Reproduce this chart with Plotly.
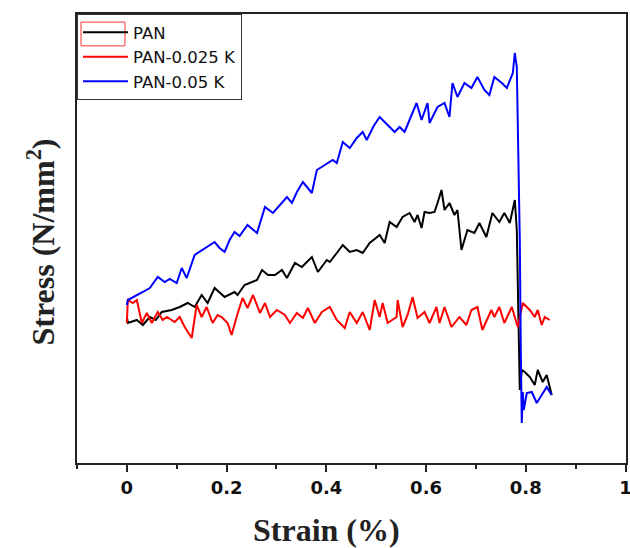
import plotly.graph_objects as go

# Strain (%) and stress (arbitrary units)
pan_x = [0.000, 0.002, 0.020, 0.032, 0.046, 0.058, 0.070, 0.090, 0.106, 0.122, 0.136, 0.150, 0.162,
         0.176, 0.196, 0.216, 0.222, 0.236, 0.261, 0.271, 0.283, 0.297, 0.311, 0.321, 0.337, 0.351,
         0.371, 0.383, 0.401, 0.407, 0.421, 0.433, 0.447, 0.461, 0.473, 0.487, 0.507, 0.517, 0.527,
         0.541, 0.553, 0.567, 0.577, 0.583, 0.591, 0.597, 0.607, 0.617, 0.623, 0.631, 0.637, 0.647,
         0.657, 0.663, 0.671, 0.683, 0.697, 0.707, 0.721, 0.733, 0.747, 0.757, 0.768, 0.778, 0.782,
         0.784, 0.786, 0.788, 0.792, 0.798, 0.808, 0.818, 0.824, 0.834, 0.842, 0.852]
pan_y = [14.6, 14.0, 14.3, 13.8, 14.6, 14.3, 15.1, 15.3, 15.6, 16.0, 15.6, 16.8, 16.0,
         17.5, 16.6, 17.1, 16.8, 17.8, 18.3, 19.3, 18.8, 18.8, 19.3, 18.5, 20.0, 19.6,
         20.6, 19.1, 20.3, 20.1, 21.0, 21.8, 21.1, 21.3, 21.0, 22.0, 22.8, 22.0, 24.1,
         23.6, 24.6, 25.0, 24.1, 24.8, 23.5, 25.1, 25.0, 25.1, 26.0, 27.3, 25.3, 26.0,
         24.8, 25.3, 21.3, 23.3, 23.0, 24.0, 22.6, 25.0, 24.1, 25.0, 24.0, 26.3, 23.3,
         17.6, 13.3, 7.3, 9.3, 9.1, 8.6, 7.8, 9.3, 8.1, 8.8, 6.8]

k025_x = [0.000, 0.002, 0.012, 0.020, 0.030, 0.040, 0.050, 0.062, 0.072, 0.080, 0.096, 0.106, 0.116,
          0.130, 0.140, 0.150, 0.160, 0.172, 0.182, 0.190, 0.202, 0.210, 0.220, 0.232, 0.242, 0.253,
          0.267, 0.277, 0.287, 0.301, 0.317, 0.327, 0.341, 0.353, 0.363, 0.377, 0.391, 0.407, 0.421,
          0.437, 0.447, 0.461, 0.473, 0.487, 0.497, 0.507, 0.513, 0.523, 0.541, 0.543, 0.553, 0.563,
          0.573, 0.583, 0.597, 0.607, 0.621, 0.627, 0.637, 0.651, 0.667, 0.681, 0.691, 0.703, 0.713,
          0.731, 0.737, 0.747, 0.757, 0.772, 0.784, 0.794, 0.808, 0.818, 0.824, 0.832, 0.838, 0.848]
k025_y = [14.0, 16.3, 16.0, 16.3, 14.0, 15.0, 14.0, 15.1, 14.3, 14.6, 14.1, 14.6, 13.6,
          12.5, 15.8, 14.6, 15.6, 14.0, 14.8, 14.6, 14.0, 12.8, 14.6, 16.5, 15.5, 16.8,
          15.0, 16.0, 14.6, 15.3, 14.8, 14.0, 15.0, 14.5, 15.5, 14.0, 15.1, 15.6, 14.3,
          13.5, 15.1, 14.0, 15.1, 13.3, 16.3, 14.6, 16.0, 14.0, 14.6, 16.3, 13.6, 14.8,
          16.6, 14.5, 15.1, 14.0, 15.6, 14.0, 15.6, 13.6, 14.6, 13.8, 15.3, 15.6, 13.3,
          15.3, 14.6, 15.6, 14.0, 15.6, 13.6, 16.0, 15.3, 14.6, 15.3, 13.8, 14.6, 14.3]

k05_x = [0.000, 0.002, 0.032, 0.046, 0.062, 0.076, 0.086, 0.100, 0.110, 0.120, 0.136, 0.152, 0.162,
         0.176, 0.186, 0.196, 0.206, 0.216, 0.226, 0.242, 0.261, 0.277, 0.293, 0.307, 0.321, 0.331,
         0.341, 0.353, 0.363, 0.371, 0.381, 0.397, 0.413, 0.421, 0.433, 0.447, 0.461, 0.473, 0.481,
         0.495, 0.507, 0.517, 0.527, 0.537, 0.547, 0.557, 0.571, 0.581, 0.591, 0.603, 0.607, 0.623,
         0.637, 0.647, 0.653, 0.663, 0.677, 0.691, 0.703, 0.717, 0.727, 0.737, 0.752, 0.762, 0.774,
         0.778, 0.782, 0.784, 0.788, 0.790, 0.792, 0.794, 0.796, 0.802, 0.812, 0.822, 0.832, 0.842, 0.852]
k05_y = [15.8, 16.3, 17.1, 17.5, 18.6, 18.1, 18.4, 18.0, 19.5, 18.5, 20.8, 21.3, 21.7,
         22.1, 21.5, 21.1, 22.3, 23.1, 22.7, 23.8, 23.0, 25.6, 25.0, 25.8, 26.6, 26.0,
         27.1, 28.1, 27.5, 27.0, 29.3, 29.8, 30.3, 30.0, 32.1, 31.5, 32.5, 33.1, 32.3,
         33.7, 34.6, 34.1, 33.6, 33.1, 33.6, 33.1, 34.8, 36.0, 34.3, 36.0, 34.0, 35.6,
         36.0, 34.6, 38.0, 36.6, 38.0, 37.5, 38.6, 37.3, 36.8, 38.6, 38.0, 37.5, 39.0,
         41.0, 39.6, 34.6, 22.3, 11.3, 4.0, 7.1, 5.3, 7.0, 7.1, 6.0, 6.8, 7.6, 6.8]

series_names = ["PAN", "PAN-0.025 K", "PAN-0.05 K"]
series_colors = ["#000000", "#FF0000", "#0000FF"]
tick_vals = [0, 0.2, 0.4, 0.6, 0.8, 1.0]
tick_text = ["0", "0.2", "0.4", "0.6", "0.8", "1"]
minor_vals = [-0.1, 0.1, 0.3, 0.5, 0.7, 0.9]
x_title = "<b>Strain (%)</b>"
y_title = "<b>Stress (N/mm<sup>2</sup>)</b>"

fig = go.Figure()
for name, xs, ys, col in zip(series_names, [pan_x, k025_x, k05_x], [pan_y, k025_y, k05_y], series_colors):
    fig.add_trace(go.Scatter(x=xs, y=ys, mode="lines", name=name,
                             line=dict(color=col, width=2)))

fig.update_layout(
    width=630, height=548,
    margin=dict(l=77, r=4, t=14, b=85),
    paper_bgcolor="white", plot_bgcolor="white",
    showlegend=True,
    legend=dict(x=0, y=1, xanchor="left", yanchor="top",
                bordercolor="#333333", borderwidth=1, bgcolor="rgba(255,255,255,0)",
                font=dict(family="DejaVu Sans", size=16.5, color="#111111"),
                tracegroupgap=0, itemwidth=45),
    shapes=[dict(type="rect", xref="paper", yref="paper",
                 x0=0.0073, x1=0.0874, y0=0.929, y1=0.982,
                 line=dict(color="#FF3333", width=1), fillcolor="rgba(0,0,0,0)", layer="above")],
    annotations=[
        dict(text=x_title, xref="x", yref="paper", x=0.4, y=0, yshift=-67,
             xanchor="center", yanchor="middle", showarrow=False,
             font=dict(family="Liberation Serif, Times New Roman", size=32, color="#222222")),
        dict(text=y_title, xref="paper", yref="paper", x=0, y=0.5, xshift=-37, yshift=-4,
             xanchor="center", yanchor="middle", textangle=-90, showarrow=False,
             font=dict(family="Liberation Serif, Times New Roman", size=32, color="#222222")),
    ],
)
fig.update_xaxes(
    range=[-0.1, 1.001], tickvals=tick_vals, ticktext=tick_text,
    ticks="outside", ticklen=7, tickwidth=2, tickcolor="#222222",
    minor=dict(tickvals=minor_vals, ticks="outside", ticklen=4, tickwidth=2, tickcolor="#222222"),
    showline=True, linewidth=2, linecolor="#222222", mirror=True,
    showgrid=False, zeroline=False, automargin=False, ticklabeloverflow="allow",
    tickfont=dict(family="DejaVu Sans", size=18, color="#111111", weight="bold"),
)
fig.update_yaxes(
    range=[0, 44.9], showticklabels=False, ticks="",
    showline=True, linewidth=2, linecolor="#222222", mirror=True,
    showgrid=False, zeroline=False, automargin=False,
)

fig.write_html("out.html", config={"displayModeBar": False},
               post_script="document.body.style.margin='0';document.body.style.overflow='hidden';")
